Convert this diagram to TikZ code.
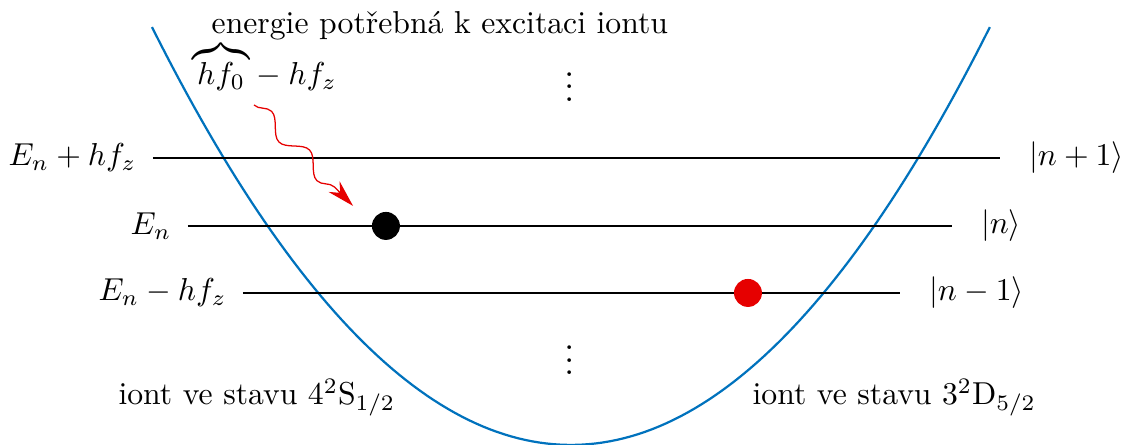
\documentclass[tikz,border=0pt]{standalone}
\usepackage{amsmath}
\usepackage{fontspec}
\usepackage{tikz}
\usetikzlibrary{positioning, decorations.pathmorphing, arrows.meta}

\definecolor{wellblue}{RGB}{0,114,189}
\definecolor{ionred}{RGB}{230,0,0}

\begin{document}
\begin{tikzpicture}[
    level/.style={thin},
    ion/.style={circle, inner sep=0pt, minimum size=3.1mm},
    photon/.style={ionred, decorate, decoration={snake, amplitude=0.9mm, segment length=6mm, post length=2.8mm}}
]
    \useasboundingbox (0, 0) rectangle (12.54, 4.933);

    % harmonic potential of the trap
    \draw[wellblue, line width=0.7pt, domain=-4.645:4.645, samples=120]
        plot ({6.33 + \x}, {0.2147*\x*\x});

    % levels |n+1>, |n>, |n-1>
    \coordinate (upL) at (1.696, 3.182);
    \coordinate (upR) at (11.086, 3.182);
    \coordinate (midL) at (2.084, 2.428);
    \coordinate (midR) at (10.554, 2.428);
    \coordinate (lowL) at (2.694, 1.685);
    \coordinate (lowR) at (9.978, 1.685);

    \draw[level] (upL) -- (upR);
    \draw[level] (midL) -- (midR);
    \draw[level] (lowL) -- (lowR);

    \node[left=0.6mm of upL] (Eup) {$E_n + hf_z$};
    \node[left=0.6mm of midL] (Emid) {$E_n$};
    \node[left=0.6mm of lowL] (Elow) {$E_n - hf_z$};

    \node[right=2mm of upR] (ketup) {$|n+1\rangle$};
    \node[right=2mm of midR] (ketmid) {$|n\rangle$};
    \node[right=2mm of lowR] (ketlow) {$|n-1\rangle$};

    \node[anchor=base, font=\large] (dotsup) at (6.319, 3.808) {$\vdots$};
    \node[anchor=base, font=\large] (dotslow) at (6.319, 0.776) {$\vdots$};

    % ions
    \node[ion, fill=black] (ionS) at (4.279, 2.428) {};
    \node[ion, fill=ionred] (ionD) at (8.293, 1.685) {};

    % absorbed photon
    \node[anchor=base west] (energy) at (2.01, 3.991) {${\overbrace{hf_0}} - hf_z$};
    \node[anchor=base west] (excit) at (2.223, 4.557) {energie potřebná k excitaci iontu};
    \coordinate (photonA) at (2.816, 3.769);
    \coordinate (photonB) at (3.914, 2.650);
    \draw[photon, -{Stealth[length=3mm, width=1.7mm]}] (photonA) -- (photonB);

    \node[anchor=base west] (stateS) at (1.19, 0.443) {iont ve stavu $4^2\mathrm{S}_{1/2}$};
    \node[anchor=base west] (stateD) at (8.221, 0.443) {iont ve stavu $3^2\mathrm{D}_{5/2}$};
\end{tikzpicture}
\end{document}
